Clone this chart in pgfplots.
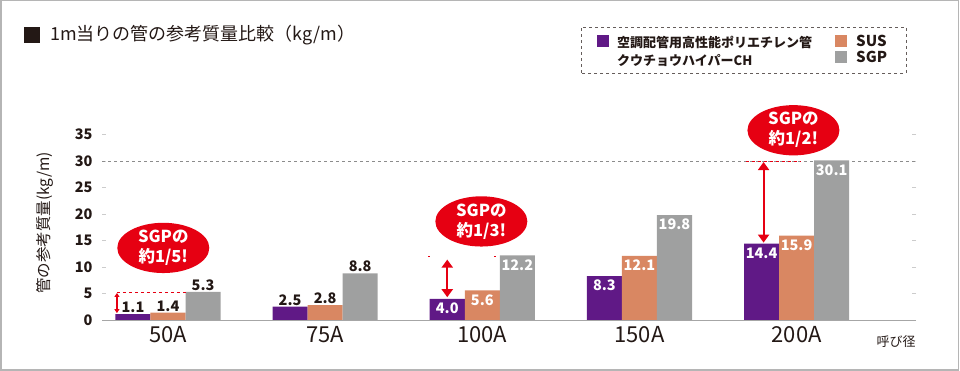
\documentclass[border=0pt]{standalone}
\usepackage{fontspec}
\setmainfont{Noto Sans CJK JP}
\usepackage{pgfplots}
\pgfplotsset{compat=1.18}
\definecolor{cpurple}{HTML}{601986}
\definecolor{corange}{HTML}{D98762}
\definecolor{cgray}{HTML}{9FA0A0}
\definecolor{cred}{HTML}{E60012}
\definecolor{dark}{HTML}{231815}
\definecolor{framegray}{HTML}{B5B5B5}
\newcommand{\valfont}{\bfseries\fontsize{14.5}{14.5}\selectfont}
\newcommand{\vabove}[3]{\node[anchor=south, text=dark, font=\valfont, inner sep=1pt] at (axis cs:#1,#2) {#3};}
\newcommand{\vinside}[3]{\node[anchor=north, text=white, font=\valfont, inner sep=1pt, yshift=-3pt] at (axis cs:#1,#2) {#3};}
\newcommand{\bubble}[3]{\node[ellipse, fill=cred, minimum width=92pt, minimum height=46pt, inner sep=0pt, text=white, font=\bfseries\fontsize{16.5}{20}\selectfont, align=center] at (axis cs:#1,#2) {SGPの\\#3};}
\usetikzlibrary{shapes.geometric,arrows.meta}
\begin{document}
\begin{tikzpicture}
\useasboundingbox (0,0) rectangle (960pt,371pt);
\draw[framegray, line width=1.5pt] (0.75pt,0.75pt) rectangle (958.5pt,370.25pt);
% title
\fill[dark] (24pt,328pt) rectangle (40pt,344pt);
\node[anchor=west, text=dark, font=\fontsize{18}{18}\selectfont, inner sep=0pt] at (50pt,336pt) {1m当りの管の参考質量比較（kg/m）};
% legend
\draw[dark!70, dashed, line width=0.6pt] (581pt,298pt) rectangle (906pt,344pt);
\fill[cpurple] (597pt,324pt) rectangle (609pt,336pt);
\node[anchor=west, text=dark, font=\bfseries\fontsize{13}{13}\selectfont, inner sep=0pt] at (617pt,329pt) {空調配管用高性能ポリエチレン管};
\node[anchor=west, text=dark, font=\bfseries\fontsize{13}{13}\selectfont, inner sep=0pt] at (617pt,311pt) {クウチョウハイパーCH};
\fill[corange] (835pt,324pt) rectangle (847pt,336pt);
\node[anchor=west, text=dark, font=\bfseries\fontsize{15}{15}\selectfont, inner sep=0pt] at (856pt,330pt) {SUS};
\fill[cgray] (835pt,308pt) rectangle (847pt,320pt);
\node[anchor=west, text=dark, font=\bfseries\fontsize{15}{15}\selectfont, inner sep=0pt] at (856pt,314pt) {SGP};
% y label
\node[rotate=90, text=dark, font=\fontsize{15.5}{15.5}\selectfont] at (45pt,148pt) {管の参考質量(kg/m)};
\node[anchor=center, text=dark, font=\fontsize{13}{13}\selectfont, inner sep=0pt] at (896pt,29pt) {呼び径};
\begin{axis}[
  at={(102pt,51pt)}, anchor=south west,
  scale only axis, width=814pt, height=185.5pt,
  xmin=-0.42, xmax=4.76, ymin=0, ymax=35,
  axis line style={draw=none},
  clip=false,
  ybar, bar width=0.223,
  xtick={0,1,2,3,4},
  xticklabels={50A,75A,100A,150A,200A},
  xtick style={draw=none},
  xticklabel style={text=dark, font=\fontsize{22}{22}\selectfont, yshift=-3pt},
  ytick={0,5,...,35},
  ytick pos=both,
  tick align=inside,
  major tick length=4pt,
  ytick style={draw=black!20, line width=0.6pt},
  yticklabel style={text=dark, font=\bfseries\fontsize{14.5}{14.5}\selectfont, xshift=-6pt},
  /pgf/number format/assume math mode=true,
]
\draw[black!45, dashed, line width=0.6pt] (axis cs:-0.42,30) -- (axis cs:4.76,30);
\addplot[fill=cpurple, draw=none, bar shift=-0.223] coordinates {(0,1.1) (1,2.5) (2,4.0) (3,8.3) (4,14.4)};
\addplot[fill=corange, draw=none, bar shift=0] coordinates {(0,1.4) (1,2.8) (2,5.6) (3,12.1) (4,15.9)};
\addplot[fill=cgray, draw=none, bar shift=0.223] coordinates {(0,5.3) (1,8.8) (2,12.2) (3,19.8) (4,30.1)};
\draw[black!35, line width=0.8pt] (axis cs:-0.42,0) -- (axis cs:4.76,0);
% value labels
\vabove{-0.223}{1.1}{1.1}
\vabove{0}{1.4}{1.4}
\vabove{0.223}{5.3}{5.3}
\vabove{0.777}{2.5}{2.5}
\vabove{1}{2.8}{2.8}
\vabove{1.223}{8.8}{8.8}
\vinside{1.777}{4.0}{4.0}
\vinside{2}{5.6}{5.6}
\vinside{2.223}{12.2}{12.2}
\vinside{2.777}{8.3}{8.3}
\vinside{3}{12.1}{12.1}
\vinside{3.223}{19.8}{19.8}
\vinside{3.777}{14.4}{14.4}
\vinside{4}{15.9}{15.9}
\vinside{4.223}{30.1}{30.1}
% red annotations
\draw[cred, dashed, line width=0.7pt] (axis cs:-0.325,5.3) -- (axis cs:0.115,5.3);
\draw[cred, line width=1.2pt, {Triangle[length=4pt,width=5pt]}-{Triangle[length=4pt,width=5pt]}] (axis cs:-0.325,5.1) -- (axis cs:-0.325,1.3);
\draw[cred, line width=0.8pt] (axis cs:1.655,12.0) -- (axis cs:1.67,12.0);
\draw[cred, line width=0.8pt] (axis cs:2.075,12.0) -- (axis cs:2.09,12.0);
\draw[cred, line width=2pt, {Triangle[length=8pt,width=11pt]}-{Triangle[length=8pt,width=11pt]}] (axis cs:1.777,11.4) -- (axis cs:1.777,4.3);
\draw[cred, dashed, line width=0.7pt] (axis cs:3.675,30) -- (axis cs:4.03,30);
\draw[cred, line width=2pt, {Triangle[length=8pt,width=11pt]}-{Triangle[length=8pt,width=11pt]}] (axis cs:3.79,29.8) -- (axis cs:3.79,14.6);
\bubble{-0.03}{13.6}{約1/5!}
\bubble{1.994}{18.6}{約1/3!}
\bubble{3.98}{35.8}{約1/2!}
\end{axis}
\end{tikzpicture}
\end{document}
